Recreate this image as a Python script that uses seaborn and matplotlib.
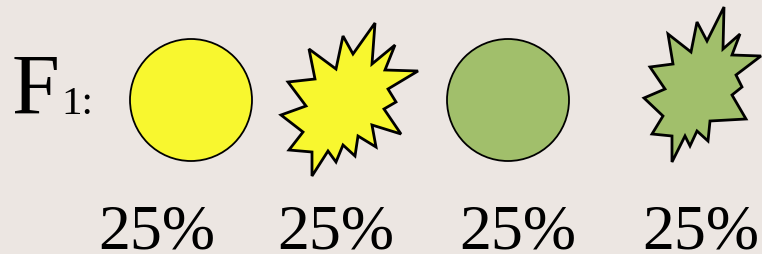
import numpy as np
import pandas as pd
import matplotlib
matplotlib.use("Agg")
import matplotlib.pyplot as plt
from matplotlib.patches import Polygon
import seaborn as sns

# data
phenotypes = ["yellow round", "yellow wrinkled", "green round", "green wrinkled"]
shapes = ["round", "wrinkled", "round", "wrinkled"]
colours = ["yellow", "yellow", "green", "green"]
ratios = [25, 25, 25, 25]
generation = "F"
generation_sub = "1:"

# layout (pixel coords)
shape_x = [191, 349, 508, 702]
shape_y = [101, 100, 101, 85]
label_x = [157, 336, 518, 701]
fills = {"yellow": "#F8F72F", "green": "#A1BF6B"}
bg = "#ECE6E2"

# star outlines as offsets from centre
star_yellow = [(26, -76), (4, -45), (-6, -63), (-13, -30), (-40, -50), (-34, -20),
               (-61, -17), (-43, 7), (-68, 16), (-46, 33), (-60, 51), (-37, 53),
               (-37, 77), (-21, 52), (-13, 63), (-6, 46), (6, 57), (9, 37),
               (27, 48), (23, 26), (52, 35), (35, 10), (47, 3), (39, -10),
               (69, -28), (36, -29), (46, -54), (23, -35)]
star_green = [(22, -77), (5, -43), (-5, -62), (-11, -32), (-34, -50), (-29, -20),
              (-52, -17), (-37, 5), (-58, 14), (-39, 32), (-50, 50), (-30, 52),
              (-30, 78), (-17, 52), (-12, 62), (-5, 47), (6, 57), (8, 37),
              (44, 35), (30, 11), (40, 3), (34, -9), (59, -28), (30, -29),
              (38, -50), (21, -35)]
templates = {"yellow": star_yellow, "green": star_green}

df = pd.DataFrame({"phenotype": phenotypes, "shape": shapes, "colour": colours,
                   "ratio": ratios, "x": shape_x, "y": shape_y, "lx": label_x})

sns.set_style("white")
plt.rcParams["text.color"] = "black"
fig = plt.figure(figsize=(7.62, 2.55), dpi=100)
fig.patch.set_facecolor(bg)
ax = fig.add_axes([0, 0, 1, 1])
ax.set_facecolor(bg)
ax.set_xlim(0, 762)
ax.set_ylim(255, 0)
ax.axis("off")

# round peas
rnd = df[df["shape"] == "round"]
sns.scatterplot(data=rnd, x="x", y="y", hue="colour", palette=fills, s=7716,
                marker="o", edgecolor="black", linewidth=1.3, legend=False, ax=ax)

# wrinkled peas
for _, r in df[df["shape"] == "wrinkled"].iterrows():
    pts = np.array(templates[r["colour"]]) + [r["x"], r["y"]]
    ax.add_patch(Polygon(pts, closed=True, facecolor=fills[r["colour"]],
                         edgecolor="black", linewidth=2, joinstyle="miter"))

# labels
serif = ["Liberation Serif", "DejaVu Serif"]
ax.text(12, 114, generation, fontsize=62, family=serif, color="black",
        ha="left", va="baseline")
ax.text(61, 114, generation_sub, fontsize=29.5, family=serif, color="black",
        ha="left", va="baseline")
for _, r in df.iterrows():
    ax.text(r["lx"], 249, f"{r['ratio']}%", fontsize=46, family=serif,
            color="black", ha="center", va="baseline")

ax.set_xlabel("")
ax.set_ylabel("")
fig.savefig("out.png", dpi=100, facecolor=bg)
